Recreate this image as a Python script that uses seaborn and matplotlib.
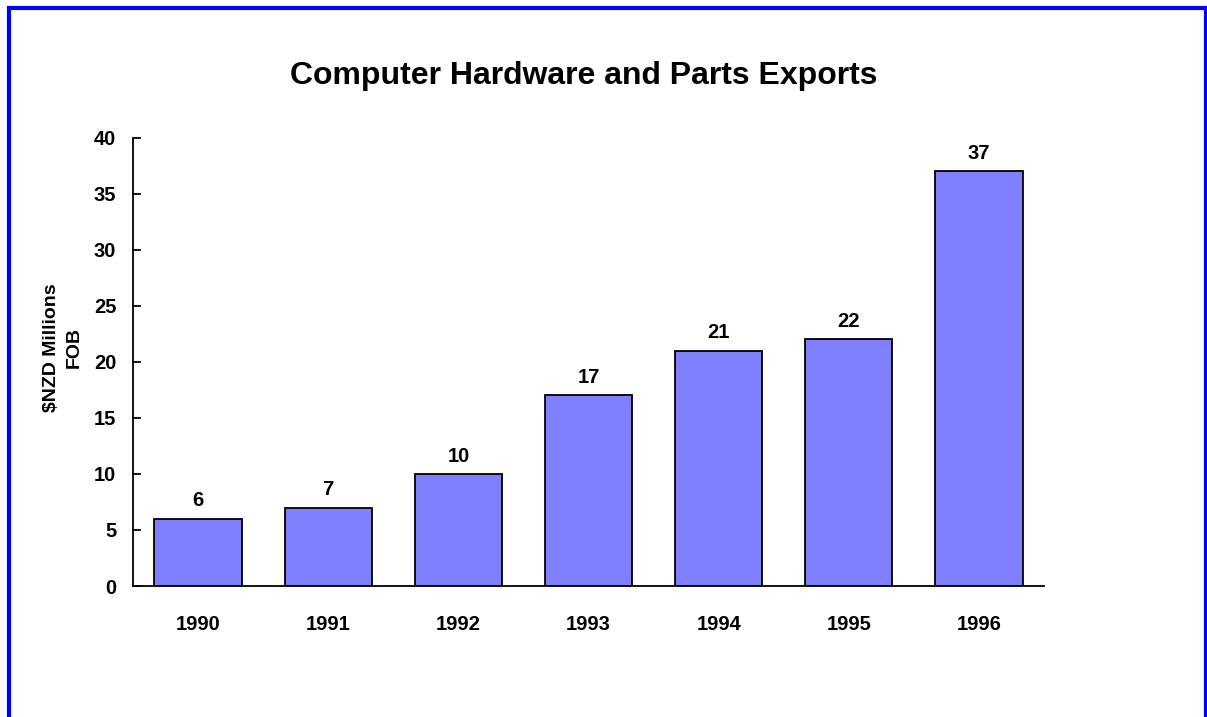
import matplotlib
matplotlib.use("Agg")
import matplotlib.pyplot as plt
from matplotlib.lines import Line2D
import seaborn as sns
import pandas as pd

# Annual exports of computer hardware and parts ($NZD millions, FOB)
years = ["1990", "1991", "1992", "1993", "1994", "1995", "1996"]
exports = [6, 7, 10, 17, 21, 22, 37]
y_ticks = [0, 5, 10, 15, 20, 25, 30, 35, 40]

sns.set_theme(style="white")
plt.rcParams["font.family"] = ["Liberation Sans", "DejaVu Sans"]
plt.rcParams["font.weight"] = "bold"

df = pd.DataFrame({"year": years, "exports": exports})

fig = plt.figure(figsize=(12.07, 7.17), dpi=100)
fig.patch.set_facecolor("white")
ax = fig.add_axes([0.1102, 0.1827, 0.7548, 0.6253])

sns.barplot(data=df, x="year", y="exports", color="#8080FF", saturation=1,
            edgecolor="black", linewidth=1.3, width=0.67, ax=ax)

ax.set_xlim(-0.5, len(years) - 0.5)
ax.set_ylim(0, 40)
ax.set_yticks(y_ticks)
ax.set_yticklabels([str(t) for t in y_ticks], fontsize=14.5, fontweight="bold")
ax.set_xticks(range(len(years)))
ax.set_xticklabels(years, fontsize=14.5, fontweight="bold")
ax.tick_params(axis="y", left=True, direction="in", length=6, width=1.3,
               pad=12, colors="black")
ax.tick_params(axis="x", bottom=False, length=0, pad=21, colors="black")

for side in ("top", "right"):
    ax.spines[side].set_visible(False)
for side in ("left", "bottom"):
    ax.spines[side].set_color("black")
    ax.spines[side].set_linewidth(1.3)

ax.set_xlabel("")
ax.set_ylabel("")

# Value labels above each bar
for i, v in enumerate(exports):
    ax.annotate(str(v), xy=(i, v), xytext=(0, 6), textcoords="offset points",
                ha="center", va="bottom", fontsize=14.5, fontweight="bold",
                color="black")

# Axis title, two lines, rotated
fig.text(0.0518, 0.515, "$NZD Millions\nFOB", rotation=90, ha="center",
         va="center", fontsize=14, fontweight="bold", color="black",
         multialignment="center", linespacing=1.45)

fig.text(0.484, 0.894, "Computer Hardware and Parts Exports", ha="center",
         va="center", fontsize=23, fontweight="bold", color="black")

# Blue frame around the page (open at the bottom)
H = 717.0
W = 1207.0
frame = Line2D([9 / W, 9 / W, 1205.5 / W, 1205.5 / W],
               [0, 1 - 7.5 / H, 1 - 7.5 / H, 0],
               transform=fig.transFigure, color="#0000FF", linewidth=3,
               solid_joinstyle="miter")
fig.add_artist(frame)

fig.savefig("out.png", dpi=100, facecolor="white")
